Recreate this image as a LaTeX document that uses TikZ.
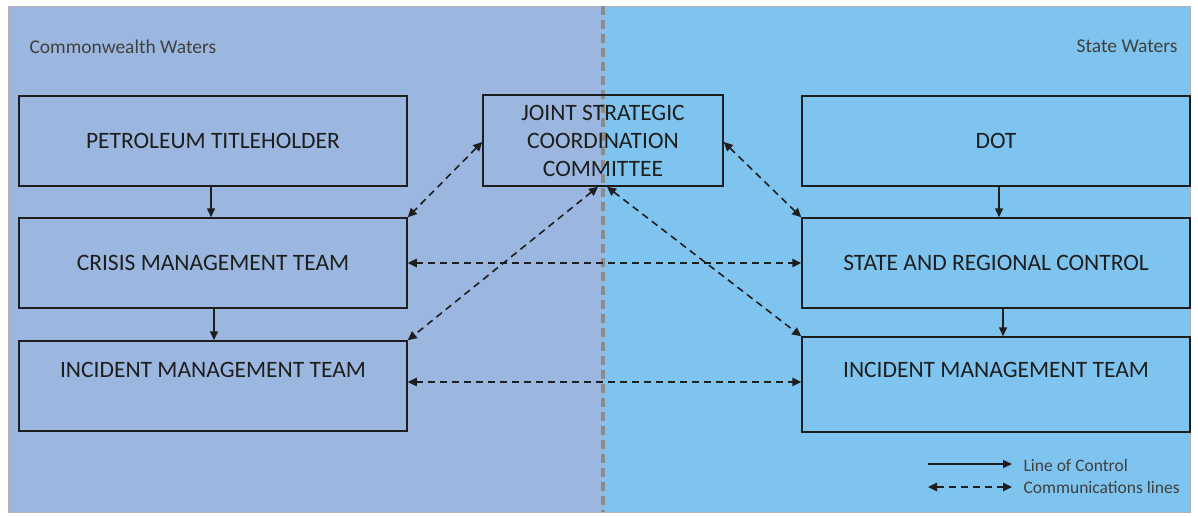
\documentclass[tikz,border=0pt]{standalone}
\usepackage{fontspec}
\setmainfont{Carlito}
\usetikzlibrary{arrows.meta}
\definecolor{leftbg}{HTML}{9BB7E0}
\definecolor{rightbg}{HTML}{7EC4EE}
\definecolor{ink}{HTML}{1E1E1E}
\definecolor{divider}{HTML}{8C8C8C}
\tikzset{
  orgbox/.style={draw=ink, line width=1.5pt, minimum width=388pt, minimum height=90pt, inner sep=0pt, font=\fontsize{23.5}{28}\selectfont, text=ink},
  boxlabel/.style={font=\fontsize{23.5}{28}\selectfont, text=ink},
  ctrl/.style={draw=ink, line width=1.5pt, -{Triangle[length=9pt,width=8pt]}},
  comm/.style={draw=ink, line width=1.6pt, dash pattern=on 7pt off 5pt, {Triangle[length=9pt,width=8.5pt]}-{Triangle[length=9pt,width=8.5pt]}},
  region/.style={font=\fontsize{19.5}{22}\selectfont, text=ink!85},
  legtext/.style={font=\fontsize{17.5}{20}\selectfont, text=ink!85, anchor=west}
}
\begin{document}
\begin{tikzpicture}[x=1pt,y=-1pt]
\useasboundingbox (0,0) rectangle (1198,515);
\fill[white] (0,0) rectangle (1198,515);
\fill[leftbg] (8,6) rectangle (603,512);
\fill[rightbg] (603,6) rectangle (1190,512);
\draw[gray!60, line width=0.8pt] (8,6) rectangle (1190,512);
\draw[divider, line width=3.2pt, dash pattern=on 9pt off 5pt] (603,6) -- (603,512);

\node[region, anchor=west] (cw) at (26,47) {Commonwealth Waters};
\node[region, anchor=east] (sw) at (1181,46) {State Waters};

\node[orgbox] (pt) at (213,141) {PETROLEUM TITLEHOLDER};
\node[orgbox] (cmt) at (213,263) {CRISIS MANAGEMENT TEAM};
\node[orgbox] (imtl) at (213,386) {};
\node[boxlabel] (imtlt) at (213,370) {INCIDENT MANAGEMENT TEAM};

\node[orgbox, minimum width=240pt, minimum height=91pt, align=center, font=\fontsize{23.5}{28}\selectfont] (jscc) at (603,140.5) {JOINT STRATEGIC\\COORDINATION\\COMMITTEE};

\node[orgbox] (dot) at (996,141) {DOT};
\node[orgbox] (src) at (996,263) {STATE AND REGIONAL CONTROL};
\node[orgbox, minimum height=95pt] (imtr) at (996,384.5) {};
\node[boxlabel] (imtrt) at (996,370) {INCIDENT MANAGEMENT TEAM};

% lines of control
\draw[ctrl] (pt.south -| 211,0) -- (cmt.north -| 211,0);
\draw[ctrl] (cmt.south -| 214,0) -- (imtl.north -| 214,0);
\draw[ctrl] (dot.south -| 999,0) -- (src.north -| 999,0);
\draw[ctrl] (src.south -| 1003,0) -- (imtr.north -| 1003,0);

% communications
\draw[comm] (jscc.west |- 0,142) -- (cmt.north east);
\draw[comm] (jscc.east |- 0,142) -- (src.north west);
\draw[comm] (jscc.south -| 598,0) -- (imtl.north east);
\draw[comm] (jscc.south -| 607,0) -- (imtr.north west);
\draw[comm] (cmt.east) -- (src.west);
\draw[comm] (imtl.east |- 0,382) -- (imtr.west |- 0,382);

% legend
\coordinate (l1a) at (928,464);
\coordinate (l1b) at (1012,464);
\coordinate (l2a) at (928,487);
\coordinate (l2b) at (1012,487);
\draw[ctrl] (l1a) -- (l1b);
\draw[comm] (l2a) -- (l2b);
\node[legtext] (lt1) at (1020,465) {Line of Control};
\node[legtext] (lt2) at (1020,487) {Communications lines};
\end{tikzpicture}
\end{document}
